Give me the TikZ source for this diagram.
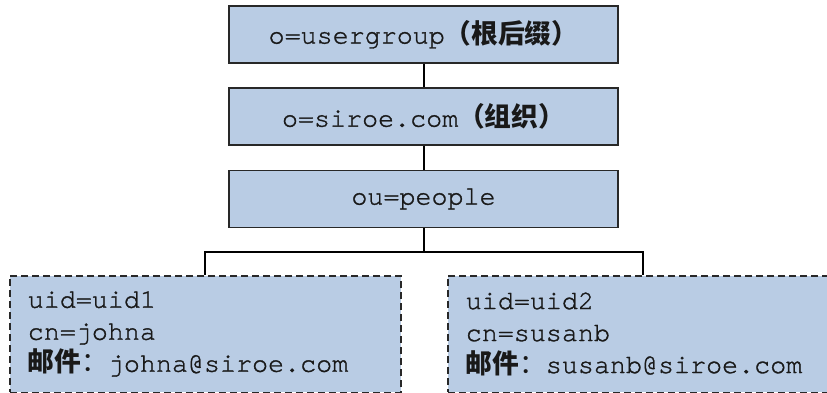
\documentclass[tikz,border=0pt]{standalone}
\usepackage{fontspec}
\setmonofont[FakeBold=1.2]{texgyrecursor-regular.otf}
\newfontfamily\cjk{Noto Sans CJK SC}
\definecolor{boxfill}{RGB}{185,204,228}
\definecolor{edge}{RGB}{40,40,40}
\definecolor{ink}{RGB}{25,25,25}
\begin{document}
\begin{tikzpicture}[x=1pt,y=-1pt,
  solidbox/.style={draw=edge, line width=1.8pt, fill=boxfill, minimum width=389pt, minimum height=57pt, inner sep=0pt, text=ink, font=\fontsize{26.7}{31}\selectfont\ttfamily},
  leafbox/.style={draw=edge, line width=1.6pt, dash pattern=on 7pt off 4pt, fill=boxfill, anchor=north west, text width=355pt, inner xsep=18pt, inner ysep=0pt, minimum height=116.5pt, align=left, text=ink, font=\fontsize{26.7}{32}\selectfont\ttfamily},
  link/.style={draw=black, line width=2pt}]
\useasboundingbox (0,0) rectangle (827,393);
\clip (0,0) rectangle (827,393);
\node[solidbox] (root) at (423.5,34.5) {o=usergroup{\cjk\bfseries（根后缀）}};
\node[solidbox] (org) at (423.5,116.5) {o=siroe.com{\cjk\bfseries（组织）}};
\node[solidbox] (ou) at (423.5,199) {ou=people};
\node[leafbox] (u1) at (9,275) {uid=uid1\\cn=johna\\{\cjk\bfseries 邮件}{\cjk：}johna@siroe.com};
\node[leafbox] (u2) at (447,275) {uid=uid2\\cn=susanb\\{\cjk\bfseries 邮件}{\cjk：}susanb@siroe.com};
\coordinate (j) at (423.5,251.5);
\draw[link] (root) -- (org);
\draw[link] (org) -- (ou);
\draw[link] (ou) -- (j);
\draw[link] (u1.north) |- (j) -| (u2.north);
\end{tikzpicture}
\end{document}
